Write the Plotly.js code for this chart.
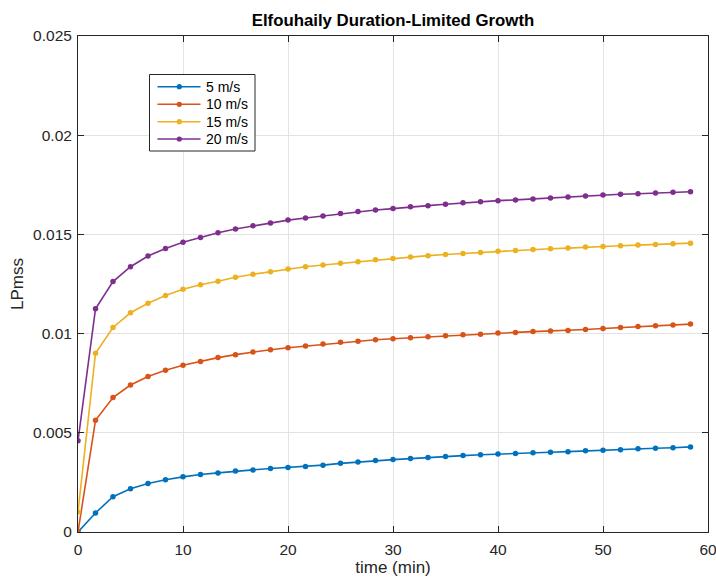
<!DOCTYPE html>
<html>
<head>
<meta charset="utf-8">
<script src="https://cdn.plot.ly/plotly-3.0.1.min.js"></script>
<style>html,body{margin:0;padding:0;background:#fff}</style>
</head>
<body>
<div id="chart" style="width:716px;height:577px"></div>
<script>
// Sample times (min), one every 100 s
const timeMin = [0, 1.667, 3.333, 5, 6.667, 8.333, 10, 11.667, 13.333, 15, 16.667, 18.333,
  20, 21.667, 23.333, 25, 26.667, 28.333, 30, 31.667, 33.333, 35, 36.667, 38.333,
  40, 41.667, 43.333, 45, 46.667, 48.333, 50, 51.667, 53.333, 55, 56.667, 58.333];

// Mean square slope (LPmss) for each wind speed
const wind5 = [0, 0.00096, 0.00178, 0.00218, 0.00244, 0.00263, 0.00278, 0.00290, 0.00298, 0.00307, 0.00313, 0.00320,
  0.00325, 0.00330, 0.00337, 0.00346, 0.00353, 0.00360, 0.00365, 0.00370, 0.00376, 0.00381, 0.00385, 0.00389,
  0.00393, 0.00396, 0.00399, 0.00402, 0.00405, 0.00409, 0.00412, 0.00415, 0.00419, 0.00422, 0.00425, 0.00429];
const wind10 = [0, 0.00563, 0.00678, 0.00741, 0.00784, 0.00815, 0.00840, 0.00860, 0.00879, 0.00894, 0.00907, 0.00919,
  0.00929, 0.00937, 0.00947, 0.00956, 0.00962, 0.00969, 0.00974, 0.00979, 0.00984, 0.00989, 0.00994, 0.00997,
  0.01003, 0.01006, 0.01010, 0.01013, 0.01016, 0.01021, 0.01026, 0.01031, 0.01036, 0.01040, 0.01043, 0.01048];
const wind15 = [0.00101, 0.00901, 0.01031, 0.01105, 0.01153, 0.01192, 0.01224, 0.01246, 0.01264, 0.01284, 0.01299, 0.01312,
  0.01326, 0.01337, 0.01346, 0.01354, 0.01362, 0.01372, 0.01379, 0.01386, 0.01393, 0.01399, 0.01404, 0.01409,
  0.01415, 0.01419, 0.01424, 0.01428, 0.01431, 0.01436, 0.01439, 0.01443, 0.01446, 0.01449, 0.01453, 0.01456];
const wind20 = [0.00460, 0.01125, 0.01262, 0.01337, 0.01391, 0.01429, 0.01461, 0.01484, 0.01508, 0.01527, 0.01543, 0.01558,
  0.01572, 0.01583, 0.01593, 0.01605, 0.01615, 0.01623, 0.01630, 0.01639, 0.01645, 0.01652, 0.01659, 0.01664,
  0.01670, 0.01674, 0.01679, 0.01684, 0.01689, 0.01694, 0.01699, 0.01702, 0.01705, 0.01709, 0.01712, 0.01715];

const seriesNames = ['5 m/s', '10 m/s', '15 m/s', '20 m/s'];
const seriesColors = ['#0072BD', '#D95319', '#EDB120', '#7E2F8E'];
const seriesValues = [wind5, wind10, wind15, wind20];

const xTicks = [0, 10, 20, 30, 40, 50, 60];
const yTicks = [0, 0.005, 0.01, 0.015, 0.02, 0.025];
const yTickText = ['0', '0.005', '0.01', '0.015', '0.02', '0.025'];

const font = 'Liberation Sans, Arial, Helvetica, sans-serif';
const axisColor = '#262626';

// Figure geometry (pixels)
const W = 716, H = 577;
const M = {l: 78, r: 8, t: 36, b: 45};
const plotW = W - M.l - M.r, plotH = H - M.t - M.b;
const px2x = p => (p - M.l) / plotW;
const px2y = p => (H - M.b - p) / plotH;

const traces = seriesValues.map((vals, i) => ({
  type: 'scatter',
  mode: 'lines+markers',
  x: timeMin,
  y: vals,
  name: seriesNames[i],
  showlegend: false,
  line: {color: seriesColors[i], width: 1.6},
  marker: {color: seriesColors[i], size: 5.5, symbol: 'circle'}
}));

// Boxed legend in the upper-left of the axes
const legBox = {left: 149.5, right: 255, top: 74.5, bottom: 151};
const legRowY = [86.7, 104.3, 121.7, 139];
const legLine = {x0: 157.5, x1: 200.5, dot: 179.3, text: 203.5};

const shapes = [{
  type: 'rect', xref: 'paper', yref: 'paper',
  x0: px2x(legBox.left), x1: px2x(legBox.right),
  y0: px2y(legBox.bottom), y1: px2y(legBox.top),
  line: {color: axisColor, width: 1}, fillcolor: '#ffffff', layer: 'above'
}];
const annotations = [];
seriesNames.forEach((name, i) => {
  const yy = px2y(legRowY[i]);
  shapes.push({
    type: 'line', xref: 'paper', yref: 'paper',
    x0: px2x(legLine.x0), x1: px2x(legLine.x1), y0: yy, y1: yy,
    line: {color: seriesColors[i], width: 1.6}, layer: 'above'
  });
  shapes.push({
    type: 'circle', xref: 'paper', yref: 'paper',
    xsizemode: 'pixel', ysizemode: 'pixel',
    xanchor: px2x(legLine.dot), yanchor: yy,
    x0: -2.6, x1: 2.6, y0: -2.6, y1: 2.6,
    line: {width: 0}, fillcolor: seriesColors[i], layer: 'above'
  });
  annotations.push({
    xref: 'paper', yref: 'paper', x: px2x(legLine.text), y: yy,
    xanchor: 'left', yanchor: 'middle', showarrow: false,
    text: name, font: {family: font, size: 14, color: '#000000'}
  });
});

const axisCommon = {
  showline: true,
  linecolor: axisColor,
  linewidth: 1,
  mirror: 'ticks',
  ticks: 'inside',
  ticklen: 6,
  tickwidth: 1,
  tickcolor: axisColor,
  showgrid: true,
  gridcolor: '#e3e3e3',
  gridwidth: 1,
  zeroline: false,
  tickfont: {family: font, size: 15.5, color: axisColor},
  ticklabeloverflow: 'allow',
  automargin: false
};

const layout = {
  width: W,
  height: H,
  paper_bgcolor: '#ffffff',
  plot_bgcolor: '#ffffff',
  margin: M,
  showlegend: false,
  title: {
    text: '<b>Elfouhaily Duration-Limited Growth</b>',
    font: {family: font, size: 16.8, color: '#000000'},
    xref: 'paper', x: 0.5, xanchor: 'center',
    yref: 'container', y: 1 - 20 / H, yanchor: 'middle'
  },
  xaxis: Object.assign({}, axisCommon, {
    range: [0, 60],
    tickvals: xTicks,
    ticktext: xTicks.map(String),
    ticklabelstandoff: 3,
    title: {text: 'time (min)', font: {family: font, size: 17, color: axisColor}, standoff: 2}
  }),
  yaxis: Object.assign({}, axisCommon, {
    range: [0, 0.025],
    tickvals: yTicks,
    ticktext: yTickText,
    ticklabelstandoff: 2,
    title: {text: 'LPmss', font: {family: font, size: 17, color: axisColor}, standoff: 5}
  }),
  shapes: shapes,
  annotations: annotations
};

Plotly.newPlot('chart', traces, layout, {displayModeBar: false, staticPlot: true});
</script>
</body>
</html>
